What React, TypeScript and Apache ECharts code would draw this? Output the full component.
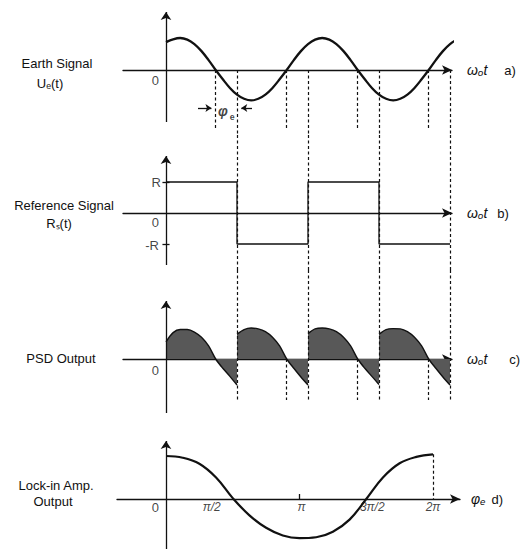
import React, { useEffect, useRef } from "react";
import * as echarts from "echarts";

// ---------- data (phase values in units of π) ----------
// a) Earth signal Ue(t)
const earthT = [0, 0.1, 0.2, 0.3, 0.4, 0.5, 0.6, 0.7, 0.8, 0.9, 1.0, 1.1, 1.2, 1.3, 1.4, 1.5, 1.6, 1.7, 1.8, 1.9, 2.0, 2.1, 2.2, 2.3, 2.4, 2.5, 2.6, 2.7, 2.8, 2.9, 3.0, 3.1, 3.2, 3.3, 3.4, 3.5, 3.6, 3.7, 3.8, 3.9, 4.0, 4.1, 4.18];
const earthU = [0.87, 0.96, 1.0, 0.95, 0.81, 0.59, 0.31, 0, -0.29, -0.56, -0.77, -0.9, -0.95, -0.9, -0.77, -0.56, -0.29, 0, 0.31, 0.59, 0.81, 0.95, 1.0, 0.95, 0.81, 0.59, 0.31, 0, -0.29, -0.56, -0.77, -0.9, -0.95, -0.9, -0.77, -0.56, -0.29, 0, 0.31, 0.59, 0.81, 0.95, 1.0];

// b) Reference square wave Rs(t)
const refT = [0, 1, 1, 2, 2, 3, 3, 4];
const refR = [1, 1, -1, -1, 1, 1, -1, -1];
const refTickValues = [1, 0, -1];
const refTickLabels = ["R", "0", "-R"];

// c) PSD output, one lobe per half period
const psdPhase = [0, 0.1, 0.2, 0.3, 0.4, 0.5, 0.6, 0.7, 0.8, 0.9, 1.0];
const psdStarts = [0, 1, 2, 3];
const psdLobe1 = [0.55, 0.85, 0.95, 0.95, 0.87, 0.7, 0.42, 0, -0.3, -0.56, -0.84];
const psdLobe2 = [0.8, 0.95, 1.0, 0.97, 0.88, 0.7, 0.42, 0, -0.3, -0.58, -0.84];
const psdLobe3 = [0.82, 0.97, 1.0, 0.97, 0.88, 0.7, 0.42, 0, -0.3, -0.56, -0.82];
const psdLobe4 = [0.8, 0.95, 0.98, 0.97, 0.88, 0.7, 0.42, 0, -0.3, -0.58, -0.84];

// d) Lock-in amplifier output vs phase φe (read every π/8)
const lockPhi = [0, 0.125, 0.25, 0.375, 0.5, 0.625, 0.75, 0.875, 1.0, 1.125, 1.25, 1.375, 1.5, 1.625, 1.75, 1.875, 2.0];
const lockOut = [1.0, 0.96, 0.82, 0.5, 0.02, -0.38, -0.67, -0.85, -0.91, -0.89, -0.76, -0.48, 0, 0.5, 0.83, 0.98, 1.04];
const phaseTickValues = [0.5, 1, 1.5, 2];
const phaseTickLabels = ["π/2", "π", "3π/2", "2π"];

// guides
const zeroCrossings = [0.7, 1.7, 2.7, 3.7];
const refEdges = [1, 2, 3, 4];

const panelTitles = [["Earth Signal", "Uₑ(t)"], ["Reference Signal", "Rₛ(t)"], ["PSD Output"], ["Lock-in Amp.", "Output"]];
const axisNames = ["ωₒt", "ωₒt", "ωₒt", "φₑ"];
const panelTags = ["a)", "b)", "c)", "d)"];

// ---------- layout ----------
const FONT = '"Liberation Sans", Arial, Helvetica, sans-serif';
const INK = "#111111";
const X0 = 166;
const panels = [
  { left: 123, right: 452, pxPerUnit: 71, top: 0, bottom: 135, zero: 70, unit: 32, axisTop: 8, axisBottom: 122, tagGap: 17 },
  { left: 123, right: 452, pxPerUnit: 71, top: 135, bottom: 270, zero: 213, unit: 31, axisTop: 152, axisBottom: 265, tagGap: 10 },
  { left: 123, right: 452, pxPerUnit: 71, top: 270, bottom: 415, zero: 359, unit: 31, axisTop: 297, axisBottom: 413, tagGap: 22 },
  { left: 117, right: 460, pxPerUnit: 133.5, top: 415, bottom: 549, zero: 499, unit: 43, axisTop: 437, axisBottom: 549, tagGap: 6 },
];
const titlePos = [[[57, 63], [50, 83]], [[64, 205], [59, 223]], [[61, 358]], [[56, 485], [53, 501]]];

const yv = (p: any, px: number) => (p.zero - px) / p.unit;
const seg = (x1: number, y1: number, x2: number, y2: number) => [{ coord: [x1, y1] }, { coord: [x2, y2] }];
const zip = (xs: number[], ys: number[]) => xs.map((x, i) => [x, ys[i]]);

function buildOption() {
  const [pa, pb, pc, pd] = panels;
  const yMin = (p: any) => (p.zero - p.bottom) / p.unit;
  const yMax = (p: any) => (p.zero - p.top) / p.unit;

  const grid = panels.map((p) => ({ left: p.left, top: p.top, width: p.right - p.left, height: p.bottom - p.top }));
  const xAxis = panels.map((p, i) => ({
    gridIndex: i,
    type: "value",
    min: (p.left - X0) / p.pxPerUnit,
    max: (p.right - X0) / p.pxPerUnit,
    axisLine: { show: true, onZero: true, symbol: ["none", "arrow"], symbolSize: [7, 10], lineStyle: { color: INK, width: 1.3 } },
    axisTick: { show: false },
    axisLabel: { show: false },
    splitLine: { show: false },
    name: `{w|${axisNames[i]}}{t|${panelTags[i]}}`,
    nameLocation: "end",
    nameGap: i === 3 ? 11 : 15,
    nameTextStyle: {
      rich: {
        w: { fontFamily: FONT, fontSize: 14, fontStyle: "italic", color: INK },
        t: { fontFamily: FONT, fontSize: 13, color: INK, padding: [0, 0, 0, p.tagGap] },
      },
    },
  }));
  const yAxis = panels.map((p, i) => ({ gridIndex: i, type: "value", min: yMin(p), max: yMax(p), show: false }));

  const dashed = (segs: any[]) => ({
    silent: true,
    symbol: ["none", "none"],
    label: { show: false },
    emphasis: { disabled: true },
    lineStyle: { color: INK, width: 1.2, type: [3, 2.5] },
    data: segs,
  });
  const solid = (segs: any[], arrowSize: number) => ({
    silent: true,
    symbol: ["none", arrowSize ? "arrow" : "none"],
    symbolSize: arrowSize || 1,
    label: { show: false },
    emphasis: { disabled: true },
    lineStyle: { color: INK, width: 1.3, type: "solid" },
    data: segs,
  });

  const guideSegs = [
    [
      ...zeroCrossings.map((x) => seg(x, 0, x, yv(pa, 128))),
      ...refEdges.map((x) => seg(x, 0, x, yMin(pa))),
    ],
    refEdges.map((x) => seg(x, yMax(pb), x, yMin(pb))),
    [
      ...refEdges.map((x) => seg(x, yMax(pc), x, yv(pc, 400))),
      ...zeroCrossings.slice(1).map((x) => seg(x, 0, x, yv(pc, 400))),
    ],
    [seg(lockPhi[lockPhi.length - 1], lockOut[lockOut.length - 1], lockPhi[lockPhi.length - 1], 0)],
  ];
  const tickSegs = [
    [],
    refTickValues.filter((v) => v !== 0).map((v) => seg(-0.05, v, 0.05, v)),
    [],
    [seg(1, 0, 1, yv(pd, 494))],
  ];

  const series: any[] = [];
  const base = { type: "line", symbol: "none", silent: true, clip: false, emphasis: { disabled: true } };

  series.push({ ...base, xAxisIndex: 0, yAxisIndex: 0, data: zip(earthT, earthU), smooth: 0.35, lineStyle: { color: INK, width: 2.3 } });
  series.push({ ...base, xAxisIndex: 1, yAxisIndex: 1, data: zip(refT, refR), smooth: false, lineStyle: { color: INK, width: 1.3 } });
  [psdLobe1, psdLobe2, psdLobe3, psdLobe4].forEach((lobe, k) => {
    series.push({
      ...base,
      xAxisIndex: 2,
      yAxisIndex: 2,
      data: psdPhase.map((ph, i) => [psdStarts[k] + ph, lobe[i]]),
      smooth: 0.3,
      lineStyle: { color: INK, width: 1.4 },
      areaStyle: { color: "#585858", opacity: 1 },
    });
  });
  series.push({ ...base, xAxisIndex: 3, yAxisIndex: 3, data: zip(lockPhi, lockOut), smooth: 0.4, lineStyle: { color: INK, width: 2.2 } });

  panels.forEach((p, i) => {
    series.push({ ...base, xAxisIndex: i, yAxisIndex: i, data: [], markLine: dashed(guideSegs[i]) });
    series.push({ ...base, xAxisIndex: i, yAxisIndex: i, data: [], markLine: solid(tickSegs[i], 0) });
    // vertical axis with arrow
    series.push({ ...base, xAxisIndex: i, yAxisIndex: i, data: [], markLine: solid([seg(0, yv(p, p.axisBottom), 0, yv(p, p.axisTop + 4))], 8) });
  });
  // φe arrows in panel a
  const arrowY = yv(pa, 108);
  series.push({
    ...base,
    xAxisIndex: 0,
    yAxisIndex: 0,
    data: [],
    markLine: solid([seg((198 - X0) / 71, arrowY, zeroCrossings[0] - 0.06, arrowY), seg((252 - X0) / 71, arrowY, refEdges[0] + 0.06, arrowY)], 6),
  });

  // text labels anchored to data coordinates
  const lbl = (x: number, y: number, text: string, offset: number[], align = "right", extra: any = {}) => ({
    value: [x, y],
    label: { formatter: text, offset, align, ...extra },
  });
  const labelSeries = (i: number, items: any[]) => ({
    type: "scatter",
    xAxisIndex: i,
    yAxisIndex: i,
    silent: true,
    symbolSize: 1,
    itemStyle: { color: "transparent" },
    label: { show: true, position: "inside", verticalAlign: "middle", color: INK, fontFamily: FONT, fontSize: 13 },
    data: items,
  });
  series.push(labelSeries(0, [
    lbl(0, 0, "0", [-7, 10]),
    lbl((zeroCrossings[0] + refEdges[0]) / 2, 0, "{p|φ}{s|ₑ}", [0, 41], "center", {
      rich: { p: { fontFamily: FONT, fontSize: 14, fontStyle: "italic", fontWeight: "bold", color: INK }, s: { fontFamily: FONT, fontSize: 13, fontWeight: "bold", color: INK, padding: [6, 0, 0, 2] } },
    }),
  ]));
  const refOffsets = [[-5, 0], [-7, 9], [-7, 1]];
  series.push(labelSeries(1, refTickValues.map((v, k) => lbl(0, v, refTickLabels[k], refOffsets[k]))));
  series.push(labelSeries(2, [lbl(0, 0, "0", [-7, 11])]));
  const phaseOffsets = [[-21, 8], [2, 8], [6, 8], [0, 8]];
  series.push(labelSeries(3, [
    lbl(0, 0, "0", [-7, 8]),
    ...phaseTickValues.map((v, k) => lbl(v, 0, phaseTickLabels[k], phaseOffsets[k], "center", { fontSize: 12, fontStyle: "italic" })),
  ]));

  const graphic: any[] = [];
  panelTitles.forEach((lines, i) => {
    lines.forEach((t, j) => {
      graphic.push({
        type: "text",
        x: titlePos[i][j][0],
        y: titlePos[i][j][1],
        silent: true,
        style: { text: t, fill: INK, font: `13px ${FONT}`, align: "center", verticalAlign: "middle" },
      });
    });
  });

  return { animation: false, backgroundColor: "#ffffff", grid, xAxis, yAxis, series, graphic };
}

export default function App() {
  const ref = useRef<HTMLDivElement>(null);
  useEffect(() => {
    const chart = echarts.init(ref.current as HTMLDivElement, undefined, { renderer: "svg" });
    chart.setOption(buildOption() as any);
    return () => chart.dispose();
  }, []);
  return <div ref={ref} style={{ position: "fixed", left: 0, top: 0, width: 523, height: 549, background: "#fff" }} />;
}
